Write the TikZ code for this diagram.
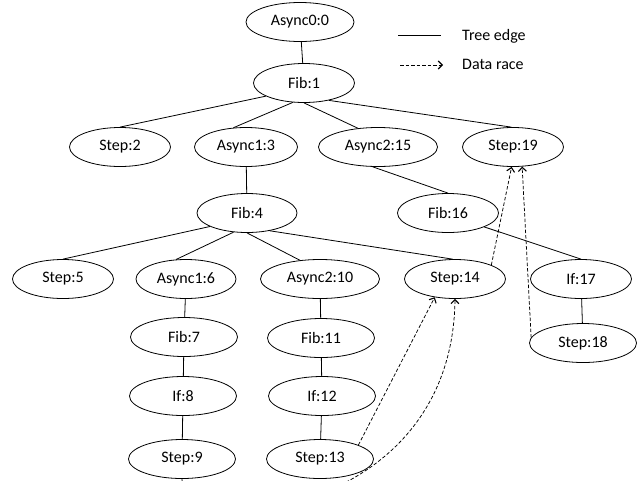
\documentclass[tikz,border=0pt]{standalone}
\usepackage{fontspec}
\setmainfont{Carlito}
\usetikzlibrary{shapes.geometric,arrows.meta}
\begin{document}
\begin{tikzpicture}[x=1pt,y=-1pt,
  nd/.style={ellipse,draw,line width=0.8pt,inner sep=0pt,minimum width=101pt,minimum height=39pt,font=\fontsize{16pt}{19pt}\selectfont},
  wide/.style={minimum width=107pt},
  wider/.style={minimum width=119pt},
  tree/.style={line width=0.8pt},
  race/.style={line width=0.75pt,dash pattern=on 3.5pt off 2pt,-{Straight Barb[length=4pt,width=8pt,line width=1.1pt]}},
  lbl/.style={anchor=west,inner sep=0pt,font=\fontsize{16pt}{19pt}\selectfont}]
\useasboundingbox (0,0) rectangle (644,480);
\clip (0,0) rectangle (644,480);

% nodes
\node[nd,minimum width=108pt] (a0) at (300,22) {Async0:0};
\node[nd] (f1) at (304,83) {Fib:1};
\node[nd] (s2) at (120,147) {Step:2};
\node[nd,minimum width=103pt] (as3) at (246,147) {Async1:3};
\node[nd,wider] (as15) at (378,147) {Async2:15};
\node[nd] (s19) at (513,147) {Step:19};
\node[nd,minimum width=100pt] (f4) at (247,213) {Fib:4};
\node[nd] (f16) at (448,213) {Fib:16};
\node[nd] (s5) at (63,279) {Step:5};
\node[nd,minimum width=100pt] (as6) at (186,279) {Async1:6};
\node[nd,wider] (as10) at (320,279) {Async2:10};
\node[nd] (s14) at (455,279) {Step:14};
\node[nd] (i17) at (581,279) {If:17};
\node[nd,wide] (f7) at (184,337) {Fib:7};
\node[nd,wide] (f11) at (321,338) {Fib:11};
\node[nd,wide] (s18) at (583,343) {Step:18};
\node[nd,wide] (i8) at (183,396) {If:8};
\node[nd,wide] (i12) at (322,396) {If:12};
\node[nd,wide] (s9) at (182,459) {Step:9};
\node[nd,wide] (s13) at (320,459) {Step:13};

% tree edges
\draw[tree] (a0) -- (f1);
\draw[tree] (f1.199) -- (s2.north);
\draw[tree] (f1.240) -- (as3.123);
\draw[tree] (f1.south) -- (as15.137);
\draw[tree] (f1.325) -- (s19.95);
\draw[tree] (as3) -- (f4);
\draw[tree] (as15.255) -- (f16.north);
\draw[tree] (f16.339) -- (i17.north);
\draw[tree] (f4.200) -- (s5.north);
\draw[tree] (f4.235) -- (as6.117);
\draw[tree] (f4.south) -- (as10.137);
\draw[tree] (f4.322) -- (s14.97);
\draw[tree] (as6) -- (f7);
\draw[tree] (f7) -- (i8);
\draw[tree] (i8) -- (s9);
\draw[tree] (as10) -- (f11);
\draw[tree] (f11) -- (i12);
\draw[tree] (i12) -- (s13);
\draw[tree] (i17) -- (s18);

% data races
\draw[race] (s13.20) -- (s14.222);
\draw[race] (s9.south) .. controls (182,540) and (452,520) .. (s14.south);
\draw[race] (s14.21) -- (s19.266);
\draw[race] (s18.174) -- (s19.295);

% legend
\coordinate (t1) at (398,35);
\coordinate (t2) at (441,35);
\draw[tree] (t1) -- (t2);
\node[lbl] (tl) at (462,36) {Tree edge};
\coordinate (r1) at (400,65);
\coordinate (r2) at (443,65);
\draw[race] (r1) -- (r2);
\node[lbl] (rl) at (462,64) {Data race};
\end{tikzpicture}
\end{document}
